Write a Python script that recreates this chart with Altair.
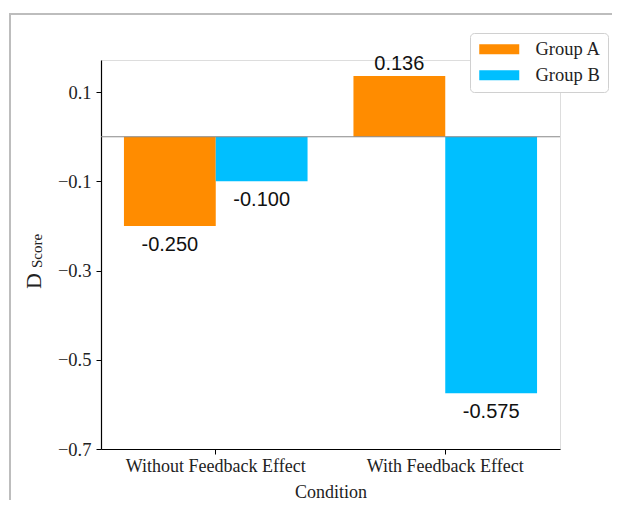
import altair as alt
import pandas as pd

conditions = ["Without Feedback Effect", "Without Feedback Effect", "With Feedback Effect", "With Feedback Effect"]
groups = ["Group A", "Group B", "Group A", "Group B"]
values = [-0.2, -0.1, 0.136, -0.575]
labels = ["-0.250", "-0.100", "0.136", "-0.575"]
cond_order = ["Without Feedback Effect", "With Feedback Effect"]
group_order = ["Group A", "Group B"]
colors = ["#FF8C00", "#00BFFF"]
y_ticks = [0.1, -0.1, -0.3, -0.5, -0.7]
y_title_parts = ["D", "Score"]

df = pd.DataFrame({"Condition": conditions, "Group": groups, "Value": values, "Label": labels})

SERIF = "Liberation Serif"

x_enc = alt.X("Condition:N", sort=cond_order,
              scale=alt.Scale(paddingInner=0.2, paddingOuter=0.1),
              axis=alt.Axis(title="Condition", labelAngle=0, labelFont=SERIF, labelFontSize=18,
                            labelColor="#222", titleFont=SERIF, titleFontSize=18,
                            titleFontWeight="normal", titleColor="#222", titlePadding=8,
                            domainColor="black", domainWidth=1.2, tickColor="black",
                            tickSize=5, labelPadding=3, grid=False))
xo_enc = alt.XOffset("Group:N", sort=group_order, scale=alt.Scale(paddingInner=0, paddingOuter=0))
y_scale = alt.Scale(domain=[-0.7, 0.172], nice=False, zero=False)

base = alt.Chart(df)

bars = base.mark_bar().encode(
    x=x_enc,
    xOffset=xo_enc,
    y=alt.Y("Value:Q", scale=y_scale,
            axis=alt.Axis(title=None, values=y_ticks, format=".1f", labelFont=SERIF,
                          labelFontSize=18.5, labelColor="#222", domainColor="black",
                          domainWidth=1.2, tickColor="black", tickSize=5, labelPadding=5,
                          grid=False)),
    color=alt.Color("Group:N", sort=group_order,
                    scale=alt.Scale(domain=group_order, range=colors),
                    legend=alt.Legend(title=None, orient="none", legendX=369, legendY=-27,
                                      labelFont=SERIF, labelFontSize=18.5, labelColor="#222",
                                      symbolType="M-4,-1L4,-1L4,1L-4,1Z", symbolSize=100,
                                      symbolStrokeWidth=0, symbolOffset=13, labelOffset=27,
                                      rowPadding=7, padding=7, strokeColor="#d0d0d0",
                                      cornerRadius=4, fillColor="white")),
)

zero = alt.Chart(pd.DataFrame({"z": [0.0]})).mark_rule(color="#888888", strokeWidth=1.2).encode(
    y=alt.Y("z:Q", scale=y_scale)
)

neg_text = base.transform_filter(alt.datum.Value < 0).mark_text(
    font="Liberation Sans", fontSize=20, baseline="middle", align="center", dy=19, color="#111"
).encode(x=alt.X("Condition:N", sort=cond_order), xOffset=xo_enc,
         y=alt.Y("Value:Q", scale=y_scale), text="Label:N")

pos_text = base.transform_filter(alt.datum.Value >= 0).mark_text(
    font="Liberation Sans", fontSize=20, baseline="middle", align="center", dy=-12, color="#111"
).encode(x=alt.X("Condition:N", sort=cond_order), xOffset=xo_enc,
         y=alt.Y("Value:Q", scale=y_scale), text="Label:N")

one = pd.DataFrame({"k": [0]})
ytitle_d = alt.Chart(one).mark_text(font=SERIF, fontSize=22, angle=270, baseline="middle",
                                    align="center", color="#222").encode(
    x=alt.value(-67), y=alt.value(221), text=alt.value(y_title_parts[0]))
ytitle_s = alt.Chart(one).mark_text(font=SERIF, fontSize=15, angle=270, baseline="middle",
                                    align="center", color="#222").encode(
    x=alt.value(-64), y=alt.value(191), text=alt.value(y_title_parts[1]))

frame = alt.Chart(one).mark_rect(fillOpacity=0, stroke="#bdbdbd", strokeWidth=2).encode(
    x=alt.value(-91), x2=alt.value(700), y=alt.value(-46), y2=alt.value(700))

chart = alt.layer(frame, bars, zero, neg_text, pos_text, ytitle_d, ytitle_s).properties(
    width=459, height=389,
    padding={"left": 93, "top": 52, "right": 52, "bottom": 51},
    autosize=alt.AutoSizeParams(type="none"),
).configure_view(stroke=None).configure(background="white")

chart.save("out.html", embed_options={"renderer": "svg", "actions": False})
